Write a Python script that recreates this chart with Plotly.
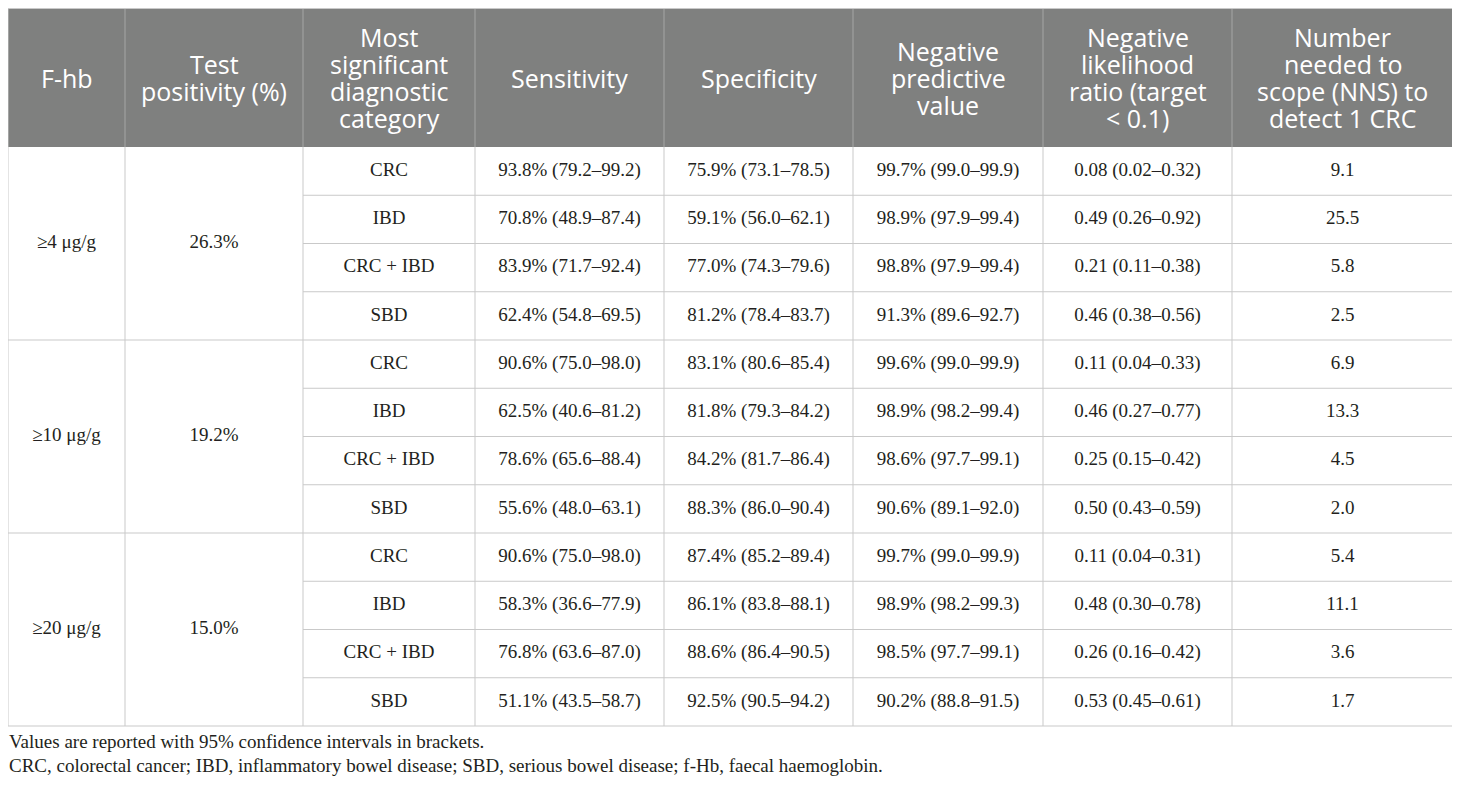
import plotly.graph_objects as go

# header labels
headers = ["F-hb", "Test<br>positivity (%)", "Most<br>significant<br>diagnostic<br>category",
           "Sensitivity", "Specificity", "Negative<br>predictive<br>value",
           "Negative<br>likelihood<br>ratio (target<br>&lt; 0.1)",
           "Number<br>needed to<br>scope (NNS) to<br>detect 1 CRC"]

# grouping columns (merged over 4 rows each)
thresholds = ["≥4 μg/g", "≥10 μg/g", "≥20 μg/g"]
positivity = ["26.3%", "19.2%", "15.0%"]
categories = ["CRC", "IBD", "CRC + IBD", "SBD"]

sensitivity = ["93.8% (79.2–99.2)", "70.8% (48.9–87.4)", "83.9% (71.7–92.4)", "62.4% (54.8–69.5)",
               "90.6% (75.0–98.0)", "62.5% (40.6–81.2)", "78.6% (65.6–88.4)", "55.6% (48.0–63.1)",
               "90.6% (75.0–98.0)", "58.3% (36.6–77.9)", "76.8% (63.6–87.0)", "51.1% (43.5–58.7)"]
specificity = ["75.9% (73.1–78.5)", "59.1% (56.0–62.1)", "77.0% (74.3–79.6)", "81.2% (78.4–83.7)",
               "83.1% (80.6–85.4)", "81.8% (79.3–84.2)", "84.2% (81.7–86.4)", "88.3% (86.0–90.4)",
               "87.4% (85.2–89.4)", "86.1% (83.8–88.1)", "88.6% (86.4–90.5)", "92.5% (90.5–94.2)"]
npv = ["99.7% (99.0–99.9)", "98.9% (97.9–99.4)", "98.8% (97.9–99.4)", "91.3% (89.6–92.7)",
       "99.6% (99.0–99.9)", "98.9% (98.2–99.4)", "98.6% (97.7–99.1)", "90.6% (89.1–92.0)",
       "99.7% (99.0–99.9)", "98.9% (98.2–99.3)", "98.5% (97.7–99.1)", "90.2% (88.8–91.5)"]
nlr = ["0.08 (0.02–0.32)", "0.49 (0.26–0.92)", "0.21 (0.11–0.38)", "0.46 (0.38–0.56)",
       "0.11 (0.04–0.33)", "0.46 (0.27–0.77)", "0.25 (0.15–0.42)", "0.50 (0.43–0.59)",
       "0.11 (0.04–0.31)", "0.48 (0.30–0.78)", "0.26 (0.16–0.42)", "0.53 (0.45–0.61)"]
nns = ["9.1", "25.5", "5.8", "2.5",
       "6.9", "13.3", "4.5", "2.0",
       "5.4", "11.1", "3.6", "1.7"]

footnotes = ["Values are reported with 95% confidence intervals in brackets.",
             "CRC, colorectal cancer; IBD, inflammatory bowel disease; SBD, serious bowel disease; f-Hb, faecal haemoglobin."]

# layout geometry (page pixels); page body has an 8px margin, so the
# figure is 1452x780 and axis ranges start at 8
W, H = 1460, 788
OFF = 8
col_edges = [8, 125, 303, 475, 664, 853, 1043, 1232, 1453]
head_top, head_bot, tab_bot = 8.5, 147, 726
n_rows = len(sensitivity)
row_h = (tab_bot - head_bot) / n_rows
grid = "#c9c9c9"
serif = "Liberation Serif"
sans = "Open Sans"
txt_col = "#231f20"
head_lh = 27

fig = go.Figure()
shapes = []
annots = []

# header background
shapes.append(dict(type="rect", x0=col_edges[0], x1=col_edges[-1], y0=head_top, y1=head_bot,
                   fillcolor="#7f807f", line=dict(width=0), layer="below"))
for i, h in enumerate(headers):
    cx = (col_edges[i] + col_edges[i + 1]) / 2
    lines = h.split("<br>")
    mid = (head_top + head_bot) / 2
    for k, ln in enumerate(lines):
        cy = mid + (k - (len(lines) - 1) / 2) * head_lh
        annots.append(dict(x=cx, y=cy, text=ln, showarrow=False, borderpad=0,
                           font=dict(family=sans, size=25, color="white")))

# header column separators
for x in col_edges[1:-1]:
    shapes.append(dict(type="line", x0=x, x1=x, y0=head_top, y1=head_bot,
                       line=dict(color="#a6a6a6", width=1)))

# body cells via text traces
cols = [sensitivity, specificity, npv, nlr, nns]
xs, ys, ts = [], [], []
for r in range(n_rows):
    cy = head_bot + (r + 0.5) * row_h
    xs.append((col_edges[2] + col_edges[3]) / 2)
    ys.append(cy)
    ts.append(categories[r % len(categories)])
    for c, col in enumerate(cols):
        xs.append((col_edges[3 + c] + col_edges[4 + c]) / 2)
        ys.append(cy)
        ts.append(col[r])
grp = len(categories)
for g in range(len(thresholds)):
    cy = head_bot + (g * grp + grp / 2) * row_h
    for c, txt in enumerate([thresholds[g], positivity[g]]):
        xs.append((col_edges[c] + col_edges[c + 1]) / 2)
        ys.append(cy)
        ts.append(txt)

fig.add_trace(go.Scatter(x=xs, y=ys, text=ts, mode="text", hoverinfo="skip",
                         textfont=dict(family=serif, size=19, color=txt_col), showlegend=False))

# horizontal row lines
for r in range(1, n_rows + 1):
    y = head_bot + r * row_h
    x0 = col_edges[0] if (r % grp == 0) else col_edges[2]
    shapes.append(dict(type="line", x0=x0, x1=col_edges[-1], y0=y, y1=y,
                       line=dict(color=grid, width=1)))
# vertical lines in body
for x in col_edges:
    shapes.append(dict(type="line", x0=x, x1=x, y0=head_bot, y1=tab_bot,
                       line=dict(color=grid, width=1)))
# outer border of header
shapes.append(dict(type="line", x0=col_edges[0], x1=col_edges[-1], y0=head_top, y1=head_top,
                   line=dict(color=grid, width=1)))
for x in (col_edges[0], col_edges[-1]):
    shapes.append(dict(type="line", x0=x, x1=x, y0=head_top, y1=head_bot,
                       line=dict(color=grid, width=1)))

# footnotes
for i, f in enumerate(footnotes):
    annots.append(dict(x=col_edges[0], y=741 + i * 24, text=f, showarrow=False, xanchor="left",
                       borderpad=0, font=dict(family=serif, size=19, color=txt_col)))

fig.update_layout(
    width=W - OFF, height=H - OFF, margin=dict(l=0, r=0, t=0, b=0),
    paper_bgcolor="white", plot_bgcolor="white",
    xaxis=dict(range=[OFF, W], visible=False, fixedrange=True),
    yaxis=dict(range=[H, OFF], visible=False, fixedrange=True),
    shapes=shapes, annotations=annots,
)

fig.write_html("out.html")
